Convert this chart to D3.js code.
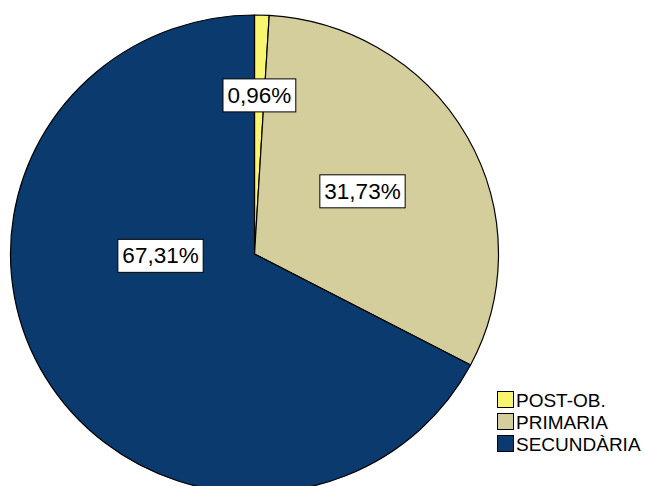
<!DOCTYPE html>
<html>
<head>
<meta charset="utf-8">
<script src="https://cdn.jsdelivr.net/npm/d3@7"></script>
<style>
  html, body { margin: 0; padding: 0; background: #fff; }
  svg { display: block; }
</style>
</head>
<body>
<svg id="chart" width="645" height="486"></svg>
<script>
// Education level shares (percent)
const categories = ["POST-OB.", "PRIMARIA", "SECUNDÀRIA"];
const values = [0.96, 31.73, 67.31];
const labels = ["0,96%", "31,73%", "67,31%"];
const colors = ["#faf56e", "#d3ce9b", "#0b3a6e"];

const svg = d3.select("#chart");
const cx = 254.5, cy = 254, rx = 244, ry = 239;

const pie = d3.pie().sort(null).value(d => d)(values);
const arc = d3.arc().innerRadius(0).outerRadius(rx);

// Slices drawn on a circle then squashed slightly vertically
const g = svg.append("g")
  .attr("transform", `translate(${cx},${cy}) scale(1,${ry / rx})`);

g.selectAll("path")
  .data(pie)
  .enter().append("path")
  .attr("d", arc)
  .attr("fill", (d, i) => colors[i])
  .attr("stroke", "#000")
  .attr("stroke-width", 1.2)
  .attr("vector-effect", "non-scaling-stroke")
  .attr("stroke-linejoin", "round");

// Value labels: angle from the slice, distance tuned per slice
const labelRadius = [162, 124, 94];
const labelShift = [[0, 0], [0, -3], [0, 0]];
const font = "Liberation Sans, Arial, sans-serif";

pie.forEach((d, i) => {
  let a = (d.startAngle + d.endAngle) / 2;
  if (i === 2) a = -Math.PI / 2 - 0.02; // largest slice label sits left of centre
  const x = cx + Math.sin(a) * labelRadius[i] + labelShift[i][0];
  const y = cy - Math.cos(a) * labelRadius[i] * (ry / rx) + labelShift[i][1];
  const lg = svg.append("g").attr("transform", `translate(${x},${y})`);
  const t = lg.append("text")
    .attr("text-anchor", "middle")
    .attr("dominant-baseline", "central")
    .attr("font-family", font)
    .attr("font-size", 22.5)
    .attr("fill", "#000")
    .text(labels[i]);
  const bb = t.node().getBBox();
  lg.insert("rect", "text")
    .attr("x", bb.x - 4.5)
    .attr("y", -16.5)
    .attr("width", bb.width + 9)
    .attr("height", 33)
    .attr("fill", "#fff")
    .attr("stroke", "#000")
    .attr("stroke-width", 1);
});

// Legend
const legend = svg.append("g").attr("transform", "translate(497,391)");
const rowStep = 22;
categories.forEach((c, i) => {
  const row = legend.append("g").attr("transform", `translate(0,${i * rowStep})`);
  row.append("rect")
    .attr("x", 0.5).attr("y", 0.5)
    .attr("width", 16).attr("height", 16)
    .attr("fill", colors[i])
    .attr("stroke", "#000")
    .attr("stroke-width", 1);
  row.append("text")
    .attr("x", 19)
    .attr("y", 16)
    .attr("font-family", font)
    .attr("font-size", 19)
    .attr("fill", "#000")
    .text(c);
});
</script>
</body>
</html>
